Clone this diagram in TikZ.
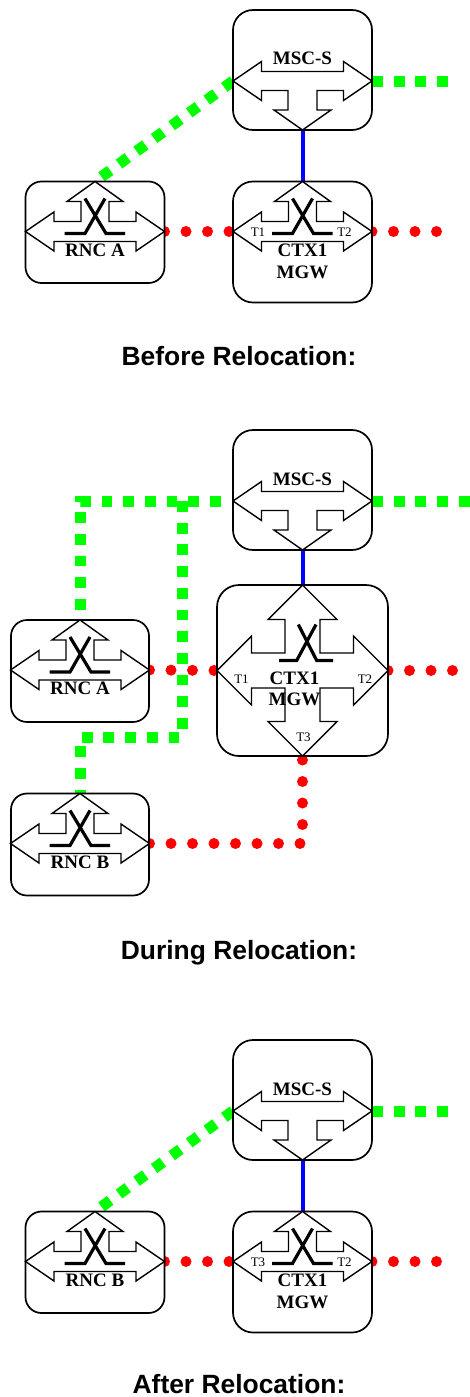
\documentclass[tikz,border=0pt]{standalone}
\usepackage{fontspec}
\setmainfont{Liberation Serif}
\newfontfamily\titlefont{Liberation Sans}
\definecolor{sgreen}{RGB}{0,255,0}
\definecolor{sred}{RGB}{255,0,0}
\definecolor{sblue}{RGB}{0,0,255}
\pgfdeclarelayer{bg}
\pgfsetlayers{bg,main}
\tikzset{
  box/.style={draw=black, line width=1.7pt, fill=white, rounded corners=20pt, inner sep=0pt, outer sep=0pt},
  rncbox/.style={box, rounded corners=16pt, minimum width=139pt, minimum height=101.5pt},
  iconline/.style={draw=black, line width=1.4pt, fill=white, line join=miter},
  xline/.style={draw=black, line width=3.2pt},
  lbl/.style={font=\fontsize{19}{22}\selectfont\bfseries, text=black, inner sep=0pt, anchor=base},
  tlbl/.style={font=\fontsize{13}{15}\selectfont, text=black, inner sep=0pt, anchor=base},
  ttl/.style={font=\titlefont\fontsize{26.4}{30}\selectfont\bfseries, text=black, inner sep=0pt, anchor=base},
  sig/.style={draw=sgreen, line width=11pt, dash pattern=on 10.8pt off 10.9pt},
  media/.style={draw=sred, line width=11pt, line cap=round, dash pattern=on 0pt off 21.5pt},
  ctl/.style={draw=sblue, line width=4pt},
  mscicon/.pic={
    \path[iconline] (-69.5,0) -- (-41,-19.5) -- (-41,-9.5) -- (41,-9.5) -- (41,-19.5) -- (69.5,0)
      -- (41,19.5) -- (41,9.5) -- (14.5,9.5) -- (14.5,29) -- (28.5,29) -- (0,49) -- (-28.5,29)
      -- (-14.5,29) -- (-14.5,9.5) -- (-41,9.5) -- (-41,19.5) -- cycle;
    \coordinate (-w) at (-69.5,0);
    \coordinate (-e) at (69.5,0);
    \coordinate (-s) at (0,49);
  },
  smallicon/.pic={
    \path[iconline] (0,-50) -- (28,-30) -- (14,-30) -- (14,-10) -- (41,-10) -- (41,-19.5) -- (69.5,0)
      -- (41,19.5) -- (41,10) -- (-41,10) -- (-41,19.5) -- (-69.5,0) -- (-41,-19.5) -- (-41,-10)
      -- (-14,-10) -- (-14,-30) -- (-28,-30) -- cycle;
    \draw[xline] (-30.5,2) -- (-10,2) -- (10,-33);
    \draw[xline] (30,2) -- (11,2) -- (-10,-33);
    \coordinate (-n) at (0,-50);
    \coordinate (-w) at (-69.5,0);
    \coordinate (-e) at (69.5,0);
  },
  bigicon/.pic={
    \path[iconline] (0,-85.5) -- (34.5,-51) -- (17.5,-51) -- (17.5,-17.5) -- (51,-17.5) -- (51,-34.5)
      -- (85.5,0) -- (51,34.5) -- (51,17.5) -- (17.5,17.5) -- (17.5,51) -- (34.5,51) -- (0,85.5)
      -- (-34.5,51) -- (-17.5,51) -- (-17.5,17.5) -- (-51,17.5) -- (-51,34.5) -- (-85.5,0)
      -- (-51,-34.5) -- (-51,-17.5) -- (-17.5,-17.5) -- (-17.5,-51) -- (-34.5,-51) -- cycle;
    \draw[xline] (-23.5,-10) -- (-5.8,-10) -- (13.5,-46);
    \draw[xline] (30.5,-10) -- (14.2,-10) -- (-4.2,-46);
    \coordinate (-n) at (0,-85.5);
    \coordinate (-s) at (0,85.5);
    \coordinate (-w) at (-85.5,0);
    \coordinate (-e) at (85.5,0);
  },
}
\begin{document}
\begin{tikzpicture}[x=1pt,y=-1pt]
\useasboundingbox (0,0) rectangle (470,1397);

% ---------------- Panel 1: Before Relocation
\node[box, minimum width=139pt, minimum height=120pt] (msc1) at (302.5,70) {};
\pic (msc1i) at (302.5,81) {mscicon};
\node[lbl] (msc1l) at (302.5,65) {MSC-S};

\node[box, minimum width=139pt, minimum height=121pt] (ctx1) at (302.5,242) {};
\pic (ctx1i) at (302.5,231.5) {smallicon};
\node[tlbl] (ctx1ta) at (258,236.5) {T1};
\node[tlbl] (ctx1tb) at (344.5,236.5) {T2};
\node[lbl] (ctx1l) at (302.5,256) {CTX1};
\node[lbl] (ctx1m) at (302.5,278.5) {MGW};

\node[rncbox] (rnc1) at (95,232.25) {};
\pic (rnc1i) at (95,231.5) {smallicon};
\node[lbl] (rnc1l) at (95,256) {RNC A};

\coordinate (g1e) at (448,81);
\coordinate (r1e) at (437,231.5);

\node[ttl] (title1) at (239,365) {Before Relocation:};

% ---------------- Panel 2: During Relocation
\node[box, minimum width=139pt, minimum height=120pt] (msc2) at (302.5,490) {};
\pic (msc2i) at (302.5,501) {mscicon};
\node[lbl] (msc2l) at (302.5,485) {MSC-S};

\node[box, rounded corners=22pt, minimum width=171pt, minimum height=171pt] (ctx2) at (302.5,670.5) {};
\pic (ctx2i) at (302.5,670.5) {bigicon};
\node[tlbl] (ctx2ta) at (241.5,683.5) {T1};
\node[tlbl] (ctx2tb) at (365,683.5) {T2};
\node[tlbl] (ctx2tc) at (303.5,741.5) {T3};
\node[lbl] (ctx2l) at (294.5,684.5) {CTX1};
\node[lbl] (ctx2m) at (294.5,705) {MGW};

\node[rncbox, minimum width=138pt, minimum height=102pt] (rnc2a) at (80,671) {};
\pic (rnc2ai) at (80,670) {smallicon};
\node[lbl] (rnc2al) at (80,694.5) {RNC A};

\node[rncbox, minimum width=138pt, minimum height=102pt] (rnc2b) at (80,844.5) {};
\pic (rnc2bi) at (80,843.5) {smallicon};
\node[lbl] (rnc2bl) at (80,868.5) {RNC B};

\coordinate (g2b) at (182,501);
\coordinate (g2c) at (182,737);
\coordinate (g2e) at (472,501);
\coordinate (r2e) at (453,670.5);

\node[ttl] (title2) at (239,959) {During Relocation:};

% ---------------- Panel 3: After Relocation
\node[box, minimum width=139pt, minimum height=120pt] (msc3) at (302.5,1100) {};
\pic (msc3i) at (302.5,1111) {mscicon};
\node[lbl] (msc3l) at (302.5,1095) {MSC-S};

\node[box, minimum width=139pt, minimum height=121pt] (ctx3) at (302.5,1272) {};
\pic (ctx3i) at (302.5,1261.5) {smallicon};
\node[tlbl] (ctx3ta) at (258,1266.5) {T3};
\node[tlbl] (ctx3tb) at (344.5,1266.5) {T2};
\node[lbl] (ctx3l) at (302.5,1286) {CTX1};
\node[lbl] (ctx3m) at (302.5,1308.5) {MGW};

\node[rncbox] (rnc3) at (95,1262.25) {};
\pic (rnc3i) at (95,1261.5) {smallicon};
\node[lbl] (rnc3l) at (95,1286) {RNC B};

\coordinate (g3e) at (448,1111);
\coordinate (r3e) at (437,1261.5);

\node[ttl] (title3) at (239,1393) {After Relocation:};

% ---------------- Connectors (behind the boxes)
\begin{pgfonlayer}{bg}
  % panel 1
  \draw[ctl] (msc1i-s) -- (ctx1i-n);
  \draw[sig] (msc1i-w) -- (rnc1i-n);
  \draw[sig] (msc1i-e) -- (g1e);
  \draw[media] (rnc1i-e) -- (ctx1i-w);
  \draw[media] (ctx1i-e) -- (r1e);
  % panel 2
  \draw[ctl] (msc2i-s) -- (ctx2i-n);
  \draw[sig, dash phase=9.5pt] (msc2i-w) -| (rnc2ai-n);
  \draw[sig] (g2b) -- (g2c) -| (rnc2bi-n);
  \draw[sig] (msc2i-e) -- (g2e);
  \draw[media] (rnc2ai-e) -- (ctx2i-w);
  \draw[media] (ctx2i-e) -- (r2e);
  \draw[media] (rnc2bi-e) -| (ctx2i-s);
  % panel 3
  \draw[ctl] (msc3i-s) -- (ctx3i-n);
  \draw[sig] (msc3i-w) -- (rnc3i-n);
  \draw[sig] (msc3i-e) -- (g3e);
  \draw[media] (rnc3i-e) -- (ctx3i-w);
  \draw[media] (ctx3i-e) -- (r3e);
\end{pgfonlayer}
\end{tikzpicture}
\end{document}
